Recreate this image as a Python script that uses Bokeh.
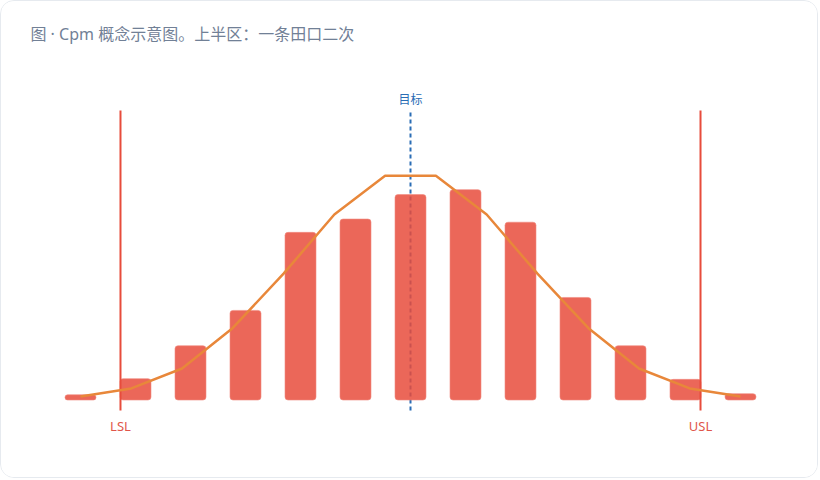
from bokeh.plotting import figure
from bokeh.models import Range1d, ColumnDataSource
from bokeh.core.properties import value
from bokeh.embed import file_html
from bokeh.resources import INLINE

# ---- data ----
bins = list(range(13))
counts = [1.5, 6.1, 15.5, 25.6, 47.9, 51.7, 58.7, 60.1, 50.8, 29.3, 15.5, 5.9, 1.8]
curve_x = [0, 0.923, 1.846, 2.769, 3.692, 4.615, 5.538, 6.462, 7.385, 8.308, 9.231, 10.154, 11.077, 12]
curve_y = [1.0, 3.3, 9.0, 20.6, 36.1, 53.0, 64.1, 64.1, 53.0, 36.1, 20.6, 9.0, 3.3, 1.0]
lsl = 0.727
usl = 11.273
target = 6.0
spec_labels = ["LSL", "USL"]
target_label = "目标"
title_text = "图 · Cpm 概念示意图。上半区：一条田口二次"

W, H = 818, 478
FONT = "Noto Sans, Noto Sans CJK SC"

p = figure(width=W, height=H, output_backend="svg", toolbar_location=None,
           x_axis_location=None, y_axis_location=None,
           x_range=Range1d(-79 / 55, (W - 79) / 55),
           y_range=Range1d(-79.5 / 3.5, -79.5 / 3.5 + H / 3.5),
           min_border=0, min_border_left=0, min_border_right=0,
           min_border_top=0, min_border_bottom=0)
p.grid.visible = False
p.outline_line_color = None
p.background_fill_color = "white"
p.border_fill_color = "white"
p.styles = {"border": "1px solid #e6eaef", "border-radius": "14px", "overflow": "hidden"}

line_top = 82.7
line_bottom = -3.0

# target dashed line (behind bars)
p.segment(x0=[target], y0=[line_bottom], x1=[target], y1=[line_top],
          line_color="#2a6db5", line_width=2, line_dash="4 3")

# bars
p.vbar(x=bins, top=counts, bottom=0, width=0.5636,
       fill_color="#e74c3c", fill_alpha=0.85,
       line_color="#f08a80", line_alpha=0.6, line_width=1,
       border_radius=3)

# spec limit lines
p.segment(x0=[lsl, usl], y0=[line_bottom] * 2, x1=[lsl, usl], y1=[line_top] * 2,
          line_color="#e74c3c", line_width=2)

# curve
p.line(curve_x, curve_y, line_color="#e8873a", line_width=2.5, line_join="round")

# labels
src = ColumnDataSource(dict(x=[lsl, usl], y=[-7.3, -7.3], t=spec_labels))
p.text(x="x", y="y", text="t", source=src, text_align="center", text_baseline="middle",
       text_font=value(FONT), text_font_size="13px", text_color="#e0554a")
p.text(x=[target], y=[86.0], text=[target_label], text_align="center", text_baseline="middle",
       text_font=value(FONT), text_font_size="12px", text_color="#2a6db5")

# title
p.text(x=[-0.91], y=[104.6], text=[title_text], text_align="left", text_baseline="middle",
       text_font=value(FONT), text_font_size="16px", text_color="#718096")

open("out.html", "w").write(file_html(p, INLINE))
